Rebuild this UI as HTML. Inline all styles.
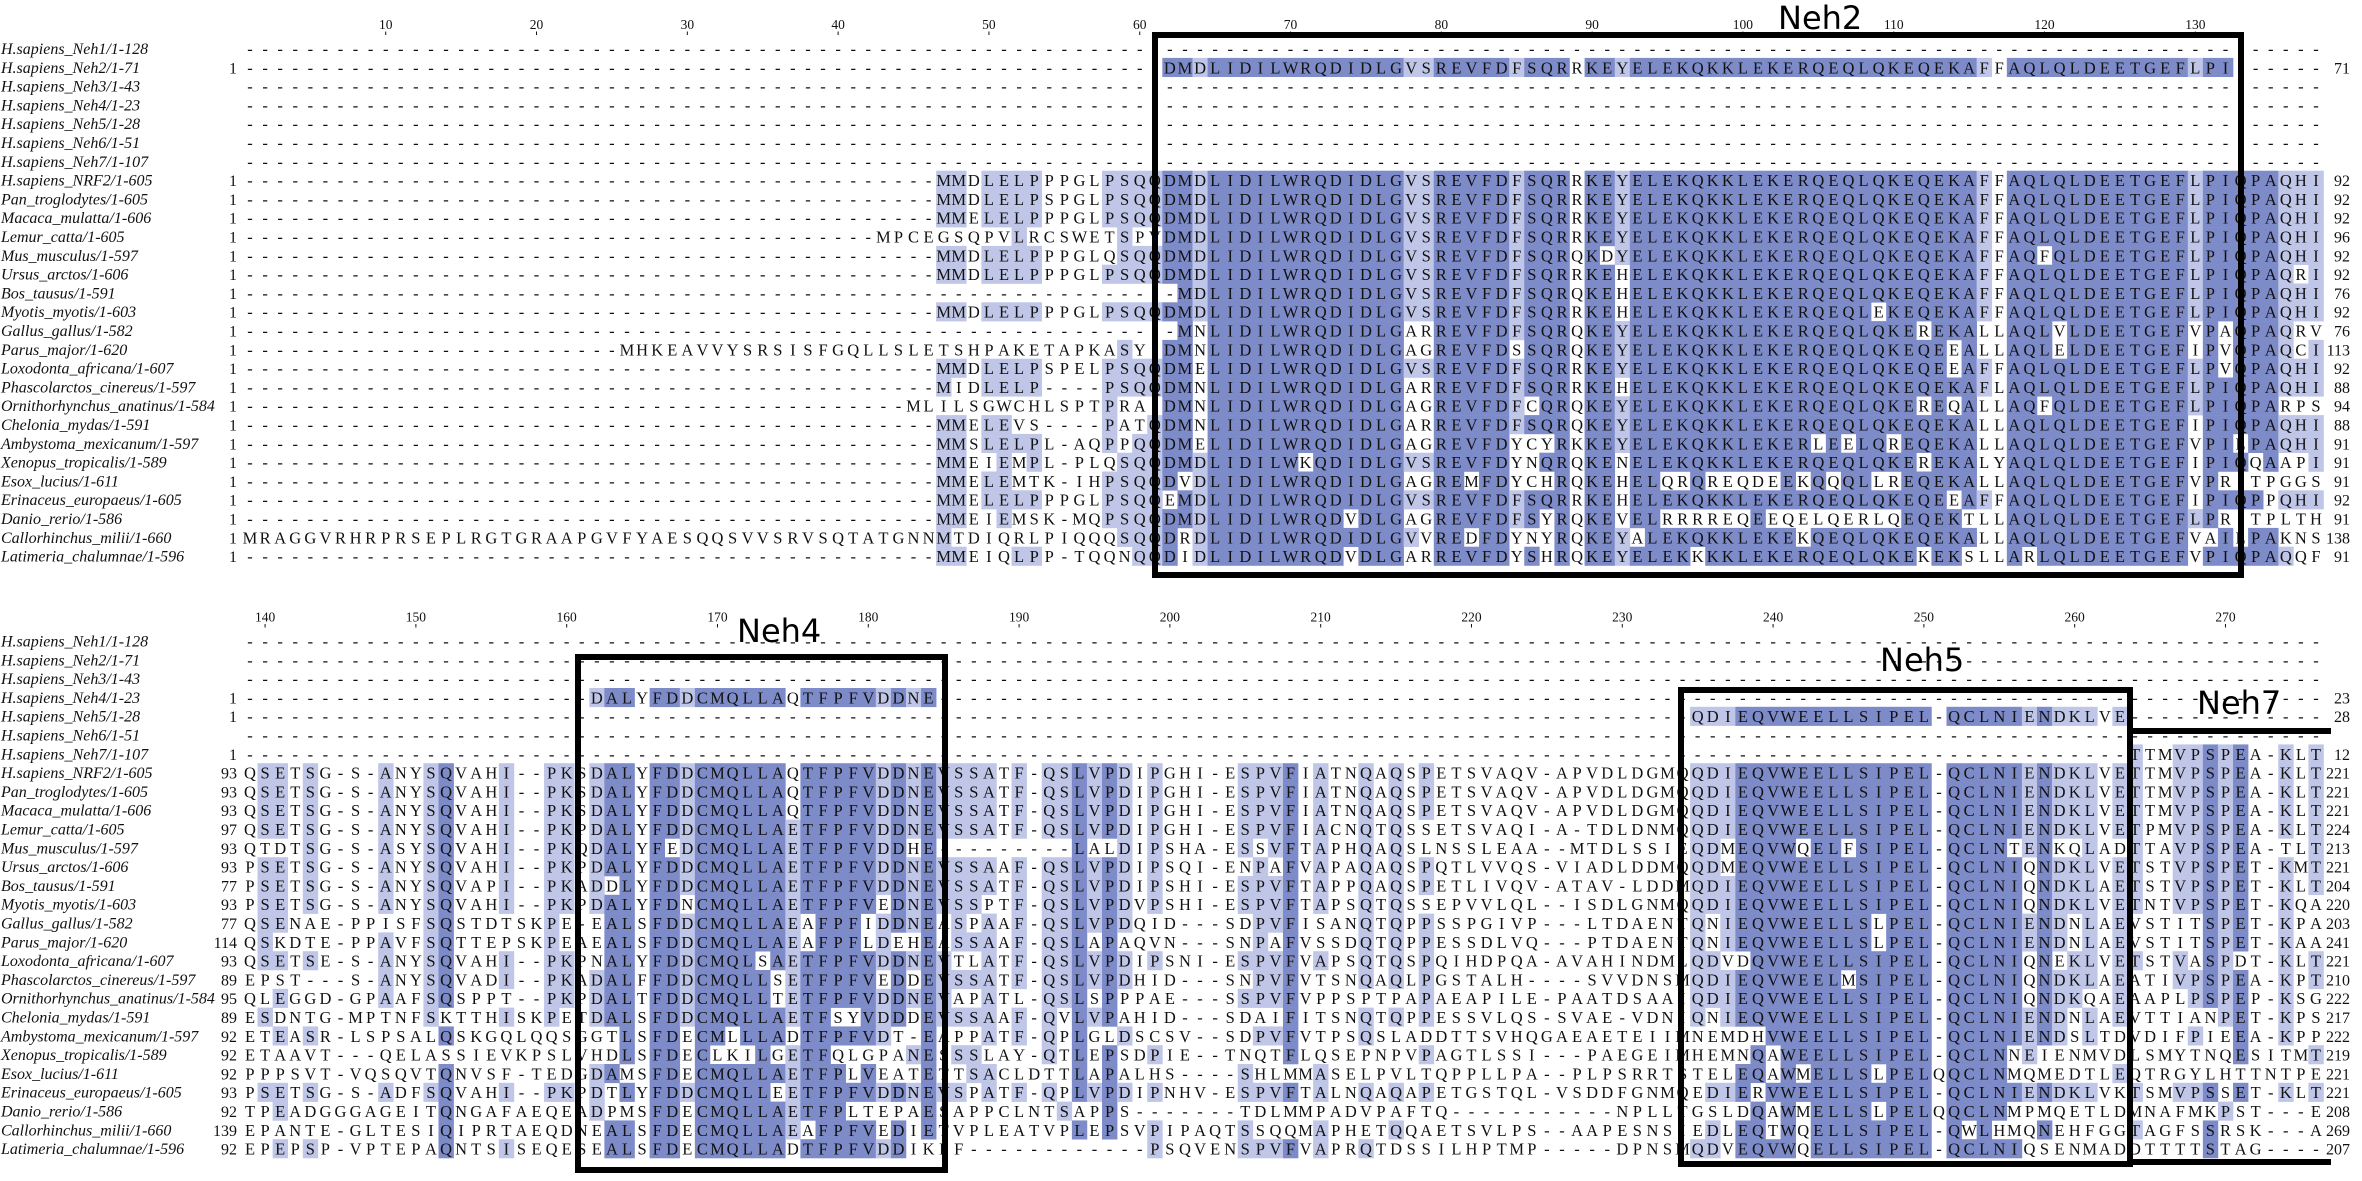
<!DOCTYPE html>
<html><head><meta charset="utf-8"><title>NRF2 alignment</title>
<style>
html,body{margin:0;padding:0;background:#fff;}
svg{display:block;}
.res{font-family:"Liberation Serif",serif;font-size:16.5px;fill:#111;}
.nm{font-family:"Liberation Serif",serif;font-size:16px;font-style:italic;fill:#111;}
.num{font-family:"Liberation Serif",serif;font-size:16px;fill:#111;}
.tick{font-family:"Liberation Serif",serif;font-size:13.5px;fill:#111;}
.neh{font-family:"DejaVu Sans","Liberation Sans",sans-serif;font-size:32px;fill:#000;}
</style></head>
<body>
<svg id="chart" width="2362" height="1181" viewBox="0 0 2362 1181" xmlns="http://www.w3.org/2000/svg">
<g id="shade"></g>
<g id="txt"></g>
<g id="boxes" fill="none" stroke="#000" stroke-width="6">
<rect x="1155" y="35" width="1086" height="540"/>
<rect x="578" y="657" width="367" height="513"/>
<rect x="1681" y="690" width="449" height="474"/>
<path d="M2130 731 L2331 731 M2130 1162 L2331 1162"/>
</g>
<text class="neh" x="1778" y="29">Neh2</text>
<text class="neh" x="737" y="642">Neh4</text>
<text class="neh" x="1880" y="671">Neh5</text>
<text class="neh" x="2197" y="714">Neh7</text>
</svg>
<script>
const names=["H.sapiens_Neh1/1-128","H.sapiens_Neh2/1-71","H.sapiens_Neh3/1-43","H.sapiens_Neh4/1-23","H.sapiens_Neh5/1-28","H.sapiens_Neh6/1-51","H.sapiens_Neh7/1-107","H.sapiens_NRF2/1-605","Pan_troglodytes/1-605","Macaca_mulatta/1-606","Lemur_catta/1-605","Mus_musculus/1-597","Ursus_arctos/1-606","Bos_tausus/1-591","Myotis_myotis/1-603","Gallus_gallus/1-582","Parus_major/1-620","Loxodonta_africana/1-607","Phascolarctos_cinereus/1-597","Ornithorhynchus_anatinus/1-584","Chelonia_mydas/1-591","Ambystoma_mexicanum/1-597","Xenopus_tropicalis/1-589","Esox_lucius/1-611","Erinaceus_europaeus/1-605","Danio_rerio/1-586","Callorhinchus_milii/1-660","Latimeria_chalumnae/1-596"];

// top block, columns 1-61 (right aligned)
const ntermTop=["","","","","","","","MMDLELPPPGLPSQQ","MMDLELPSPGLPSQQ","MMELELPPPGLPSQQ","MPCEGSQPVLRCSWETSPV","MMDLELPPPGLQSQQ","MMDLELPPPGLPSQQ","","MMDLELPPPGLPSQQ","","MHKEAVVYSRSISFGQLLSLETSHPAKETAPKASYI","MMDLELPSPELPSQQ","MIDLELP----PSQQ","MLILSGWCHLSPTPRAI","MMELEVS----PATQ","MMSLELPL-AQPPQQ","MMEIEMPL-PLQSQQ","MMELEMTK-IHPSQQ","MMELELPPPGLPSQQ","MMEIEMSK-MQPSQQ","MRAGGVRHRPRSEPLRGTGRAAPGVFYAESQQSVVSRVSQTATGNNMTDIQRLPIQQQSQQ","MMEIQLPP-TQQNQQ"];
// top block, columns 62-129
const coreTop=["","DMDLIDILWRQDIDLGVSREVFDFSQRRKEYELEKQKKLEKERQEQLQKEQEKAFFAQLQLDEETGEF","","","","","",
"DMDLIDILWRQDIDLGVSREVFDFSQRRKEYELEKQKKLEKERQEQLQKEQEKAFFAQLQLDEETGEF",
"DMDLIDILWRQDIDLGVSREVFDFSQRRKEYELEKQKKLEKERQEQLQKEQEKAFFAQLQLDEETGEF",
"DMDLIDILWRQDIDLGVSREVFDFSQRRKEYELEKQKKLEKERQEQLQKEQEKAFFAQLQLDEETGEF",
"DMDLIDILWRQDIDLGVSREVFDFSQRRKEYELEKQKKLEKERQEQLQKEQEKAFFAQLQLDEETGEF",
"DMDLIDILWRQDIDLGVSREVFDFSQRQKDYELEKQKKLEKERQEQLQKEQEKAFFAQFQLDEETGEF",
"DMDLIDILWRQDIDLGVSREVFDFSQRRKEHELEKQKKLEKERQEQLQKEQEKAFFAQLQLDEETGEF",
"-MDLIDILWRQDIDLGVSREVFDFSQRQKEHELEKQKKLEKERQEQLQKEQEKAFFAQLQLDEETGEF",
"DMDLIDILWRQDIDLGVSREVFDFSQRRKEHELEKQKKLEKERQEQLEKEQEKAFFAQLQLDEETGEF",
"-MNLIDILWRQDIDLGARREVFDFSQRQKEYELEKQKKLEKERQEQLQKEREKALLAQLVLDEETGEF",
"DMNLIDILWRQDIDLGAGREVFDSSQRQKEYELEKQKKLEKERQEQLQKEQEEALLAQLELDEETGEF",
"DMELIDILWRQDIDLGVSREVFDFSQRRKEYELEKQKKLEKERQEQLQKEQEEAFFAQLQLDEETGEF",
"DMNLIDILWRQDIDLGARREVFDFSQRRKEHELEKQKKLEKERQEQLQKEQEKAFLAQLQLDEETGEF",
"DMNLIDILWRQDIDLGAGREVFDFCQRQKEYELEKQKKLEKERQEQLQKEREQALLAQFQLDEETGEF",
"DMNLIDILWRQDIDLGARREVFDFSQRQKEYELEKQKKLEKERQEQLQKEQEKALLAQLQLDEETGEF",
"DMELIDILWRQDIDLGAGREVFDYCYRKKEYELEKQKKLEKERLEELQREQEKALLAQLQLDEETGEF",
"DMDLIDILWKQDIDLGVSREVFDYNQRQKENELEKQKKLEKERQEQLQKEREKALYAQLQLDEETGEF",
"DVDLIDILWRQDIDLGAGREMFDYCHRQKEHELQRQREQDEEKQQQLLREQEKALLAQLQLDEETGEF",
"EMDLIDILWRQDIDLGVSREVFDFSQRRKEHELEKQKKLEKERQEQLQKEQEEAFFAQLQLDEETGEF",
"DMDLIDILWRQDVDLGAGREVFDFSYRQKEVELRRRREQEEQELQERLQEQEKTLLAQLQLDEETGEF",
"DRDLIDILWRQDIDLGVVREDFDYNYRQKEYALEKQKKLEKEKQEQLQKEQEKALLAQLQLDEETGEF",
"DIDLIDILWRQDVDLGARREVFDYSHRQKEYELEKKKKLEKERQEQLQKEKEKSLLARLQLDEETGEF"];
// top block, columns 130-138
const tailTop=["","LPI------","","","","","","LPIQPAQHI","LPIQPAQHI","LPIQPAQHI","LPIQPAQHI","LPIQPAQHI","LPIQPAQRI","LPIQPAQHI","LPIQPAQHI","VPAQPAQRV","IPVQPAQCI","LPVQPAQHI","LPIQPAQHI","LPIQPARPS","IPIQPAQHI","VPILPAQHI","IPIQQAAPI","VPRITPGGS","IPIQPPQHI","LPRITPLTH","VAILPAKNS","VPIQPAQQF"];
const leftTop=["","1","","","","","","1","1","1","1","1","1","1","1","1","1","1","1","1","1","1","1","1","1","1","1","1"];
const rightTop=["","71","","","","","","92","92","92","96","92","92","76","92","76","113","92","88","94","88","91","91","91","92","91","138","91"];

// bottom block, columns 139-184
const segA=["","","","-----------------------DALYFDDCMQLLAQTFPFVDDNE","","","",
"QSETSG-S-ANYSQVAHI--PKSDALYFDDCMQLLAQTFPFVDDNE","QSETSG-S-ANYSQVAHI--PKSDALYFDDCMQLLAQTFPFVDDNE","QSETSG-S-ANYSQVAHI--PKSDALYFDDCMQLLAQTFPFVDDNE",
"QSETSG-S-ANYSQVAHI--PKPDALYFDDCMQLLAETFPFVDDNE","QTDTSG-S-ASYSQVAHI--PKQDALYFEDCMQLLAETFPFVDDHE","PSETSG-S-ANYSQVAHI--PKPDALYFDDCMQLLAETFPFVDDNE",
"PSETSG-S-ANYSQVAPI--PKADDLYFDDCMQLLAETFPFVDDNE","PSETSG-S-ANYSQVAHI--PKPDALYFDNCMQLLAETFPFVEDNE","QSENAE-PPISFSQSTDTSKPE-EALSFDDCMQLLAEAFPFIDDNE",
"QSKDTE-PPAVFSQTTEPSKPEAEALSFDDCMQLLAEAFPFLDEHE","QSETSE-S-ANYSQVAHI--PKPNALYFDDCMQLSAETFPFVDDNE","EPST---S-ANYSQVADI--PKADALFFDDCMQLLSETFPFVEDDE",
"QLEGGD-GPAAFSQSPPT--PKPDALTFDDCMQLLTETFPFVDDNE","ESDNTG-MPTNFSKTTHISKPETDALSFDDCMQLLAETFSYVDDDE","ETEASR-LSPSALQSKGQLQQSGGTLSFDECMLLLADTFPFVDT-E",
"ETAAVT---QELASSIEVKPSLVHDLSFDECLKILGETFQLGPANE","PPPSVT-VQSQVTQNVSF-TEDGDAMSFDECMQLLAETFPLVEATE","PSETSG-S-ADFSQVAHI--PKPDTLYFDDCMQLLEETFPFVDDNE",
"TPEADGGGAGEITQNGAFAEQEADPMSFDECMQLLAETFPLTEPAE","EPANTE-GLTESIQIPRTAEQDNEALSFDECMQLLAEAFPFVEDIE","EPEPSP-VPTEPAQNTSISEQESEALSFDECMQLLADTFPFVDDIK"];
// bottom block, columns 185-230
const segB=["","","","","","","",
"VSSATF-QSLVPDIPGHI-ESPVFIATNQAQSPETSVAQV-APVDL","VSSATF-QSLVPDIPGHI-ESPVFIATNQAQSPETSVAQV-APVDL","VSSATF-QSLVPDIPGHI-ESPVFIATNQAQSPETSVAQV-APVDL",
"VSSATF-QSLVPDIPGHI-ESPVFIACNQTQSSETSVAQI-A-TDL","---------LALDIPSHA-ESSVFTAPHQAQSLNSSLEAA--MTDL","VSSAAF-QSLVPDIPSQI-ENPAFVAPAQAQSPQTLVVQS-VIADL",
"VSSATF-QSLVPDIPSHI-ESPVFTAPPQAQSPETLIVQV-ATAV-","VSSPTF-QSLVPDVPSHI-ESPVFTAPSQTQSSEPVVLQL--ISDL","ASPAAF-QSLVPDQID---SDPVFISANQTQPPSSPGIVP---LTD",
"ASSAAF-QSLAPAQVN---SNPAFVSSDQTQPPESSDLVQ---PTD","VTLATF-QSLVPDIPSNI-ESPVFVAPSQTQSPQIHDPQA-AVAHI","VSSATF-QSLVPDHID---SNPVFVTSNQAQLPGSTALH----SVV",
"VAPATL-QSLSPPPAE---SSPVFVPPSPTPAPAEAPILE-PAATD","VSSAAF-QVLVPAHID---SDAIFITSNQTQPPESSVLQS-SVAE-","APPATF-QPLGLDSCSV--SDPVFVTPSQSLADDTTSVHQGAEAET",
"SSSLAY-QTLEPSDPIE--TNQTFLQSEPNPVPAGTLSSI---PAE","TTSACLDTTLAPALHS----SHLMMASELPVLTQPPLLPA--PLPS","VSPATF-QPLVPDIPNHV-ESPVFTALNQAQAPETGSTQL-VSDDF",
"SAPPCLNTSAPPS-------TDLMMPADVPAFTQ-----------N","TVPLEATVPLEPSVPIPAQTSSQQMAPHETQQAETSVLPS--AAPE","PF------------PSQVENSPVFVAPRQTDSSILHPTMP-----D"];
// bottom block, columns 231-276
const segC=["","","","","----QDIEQVWEELLSIPEL-QCLNIENDKLVE-------------","","---------------------------------TTMVPSPEA-KLT",
"DGMQQDIEQVWEELLSIPEL-QCLNIENDKLVETTMVPSPEA-KLT","DGMQQDIEQVWEELLSIPEL-QCLNIENDKLVETTMVPSPEA-KLT","DGMQQDIEQVWEELLSIPEL-QCLNIENDKLVETTMVPSPEA-KLT",
"DNMQQDIEQVWEELLSIPEL-QCLNIENDKLVETPMVPSPEA-KLT","SSIEQDMEQVWQELFSIPEL-QCLNTENKQLADTTAVPSPEA-TLT","DDMQQDMEQVWEELLSIPEL-QCLNIQNDKLVETSTVPSPET-KMT",
"LDDMQDIEQVWEELLSIPEL-QCLNIQNDKLAETSTVPSPET-KLT","GNMQQDIEQVWEELLSIPEL-QCLNIQNDKLVETNTVPSPET-KQA","AENTQNIEQVWEELLSLPEL-QCLNIENDNLAEVSTITSPET-KPA",
"AENTQNIEQVWEELLSLPEL-QCLNIENDNLAEVSTITSPET-KAA","NDMLQDVDQVWEELLSIPEL-QCLNIQNEKLVETSTVASPDT-KLT","DNSMQDIEQVWEELMSIPEL-QCLNIQNDKLAEATIVPSPEA-KPT",
"SAAIQDIEQVWEELLSIPEL-QCLNIQNDKQAEAAPLPSPEP-KSG","VDNIQNIEQVWEELLSIPEL-QCLNIENDNLAEVTTIANPET-KPS","EIIMNEMDHVWEELLSIPEL-QCLNIENDSLTDVDIFPIEEA-KPP",
"GEIMHEMNQAWEELLSIPEL-QCLNNEIENMVDLSMYTNQESITMT","RRTSTELEQAWMELLSLPELQQCLNMQMEDTLEQTRGYLHTTNTPE","GNMQEDIERVWEELLSIPEL-QCLNIENDKLVKTSMVPSSET-KLT",
"PLLTGSLDQAWMELLSLPELQQCLNMPMQETLDMNAFMKPST---E","SNSIEDLEQTWQELLSIPEL-QWLHMQNEHFGGTAGFSSRSK---A","PNSMQDVEQVWQELLSIPEL-QCLNIQSENMADDTTTTSTAG----"];
const leftBot=["","","","1","1","","1","93","93","93","97","93","93","77","93","77","114","93","89","95","89","92","92","92","93","92","139","92"];
const rightBot=["","","","23","28","","12","221","221","221","224","213","221","204","220","203","241","221","210","222","217","222","219","221","221","208","269","207"];
const rulerTop=[10,20,30,40,50,60,70,80,90,100,110,120,130];
const rulerBot=[140,150,160,170,180,190,200,210,220,230,240,250,260,270];

const NS="http://www.w3.org/2000/svg";
const COLW=15.08, X0=250, ROWH=18.8, NCOL=138;
const TOP_Y=48.5, BOT_Y=641, TOP_START=1, BOT_START=139;
const DARK="#7e8bc9", LIGHT="#bfc6e7";
function dashes(n){return "-".repeat(Math.max(0,n));}
function fit(s,n,left){ if(s.length>n) return left? s.slice(s.length-n): s.slice(0,n); return left? dashes(n-s.length)+s : s+dashes(n-s.length);}
function colX(i){return X0+i*COLW;} // i = 0-based column within block

const topRows=names.map((_,r)=>fit(ntermTop[r],61,true)+fit(coreTop[r],68,false)+fit(tailTop[r],9,false));
const botRows=names.map((_,r)=>fit(segA[r],46,false)+fit(segB[r],46,false)+fit(segC[r],46,false));

const shade=document.getElementById('shade');
const txt=document.getElementById('txt');
const svg=document.getElementById('chart');

function drawBlock(rows,y0,lefts,rights,ruler,startCol,tag){
  const N=rows.length;
  // consensus
  const cons=[],frac=[];
  for(let c=0;c<NCOL;c++){
    const cnt={};
    rows.forEach(s=>{const ch=s[c]; if(ch&&ch!=='-') cnt[ch]=(cnt[ch]||0)+1;});
    let best='',bv=0; for(const k in cnt){ if(cnt[k]>bv){bv=cnt[k];best=k;} }
    cons.push(best); frac.push(bv/N);
  }
  rows.forEach((s,r)=>{
    const cy=y0+r*ROWH;
    // shading runs
    let c=0;
    while(c<NCOL){
      let col=null;
      if(s[c]!=='-' && s[c]===cons[c]){ if(frac[c]>0.6) col=DARK; else if(frac[c]>0.4) col=LIGHT; }
      if(!col){c++;continue;}
      let e=c+1;
      while(e<NCOL){ let c2=null; if(s[e]!=='-'&&s[e]===cons[e]){ if(frac[e]>0.6)c2=DARK; else if(frac[e]>0.4)c2=LIGHT;} if(c2!==col)break; e++; }
      const rc=document.createElementNS(NS,'rect');
      
      
      rc.setAttribute('x',(colX(c)-COLW/2).toFixed(2));
      rc.setAttribute('y',(cy-ROWH/2).toFixed(2));
      rc.setAttribute('width',((e-c)*COLW+0.3).toFixed(2));
      rc.setAttribute('height',(ROWH+0.3).toFixed(2));
      rc.setAttribute('fill',col);
      shade.appendChild(rc);
      c=e;
    }
    // name
    const nm=document.createElementNS(NS,'text');
    
    
    nm.setAttribute('class','nm'); nm.setAttribute('x','1'); nm.setAttribute('y',(cy+5.5).toFixed(1));
    nm.textContent=names[r]; txt.appendChild(nm);
    // residues
    const t=document.createElementNS(NS,'text');
    
    
    t.setAttribute('class','res'); t.setAttribute('text-anchor','middle');
    const xs=[]; for(let i=0;i<NCOL;i++) xs.push(colX(i).toFixed(2));
    t.setAttribute('x',xs.join(' ')); t.setAttribute('y',(cy+6).toFixed(1));
    t.textContent=s; txt.appendChild(t);
    if(lefts[r]){
      const ln=document.createElementNS(NS,'text');
      
      
      ln.setAttribute('class','num'); ln.setAttribute('text-anchor','end');
      ln.setAttribute('x','237'); ln.setAttribute('y',(cy+6).toFixed(1));
      ln.textContent=lefts[r]; txt.appendChild(ln);
    }
    if(rights[r]){
      const rn=document.createElementNS(NS,'text');
      
      
      rn.setAttribute('class','num'); rn.setAttribute('text-anchor','end');
      rn.setAttribute('x','2350'); rn.setAttribute('y',(cy+6).toFixed(1));
      rn.textContent=rights[r]; txt.appendChild(rn);
    }
  });
  // ruler
  ruler.forEach(v=>{
    const x=colX(v-startCol);
    const lb=document.createElementNS(NS,'text');
    
    
    lb.setAttribute('class','tick'); lb.setAttribute('text-anchor','middle');
    lb.setAttribute('x',x.toFixed(2)); lb.setAttribute('y',(y0-19.5).toFixed(1));
    lb.textContent=String(v); txt.appendChild(lb);
    const tk=document.createElementNS(NS,'line');
    
    
    tk.setAttribute('x1',x.toFixed(2)); tk.setAttribute('x2',x.toFixed(2));
    tk.setAttribute('y1',(y0-17).toFixed(1)); tk.setAttribute('y2',(y0-13.5).toFixed(1));
    tk.setAttribute('stroke','#111'); tk.setAttribute('stroke-width','1');
    txt.appendChild(tk);
  });
}
drawBlock(topRows,TOP_Y,leftTop,rightTop,rulerTop,TOP_START,'top');
drawBlock(botRows,BOT_Y,leftBot,rightBot,rulerBot,BOT_START,'bottom');
</script>
</body></html>
